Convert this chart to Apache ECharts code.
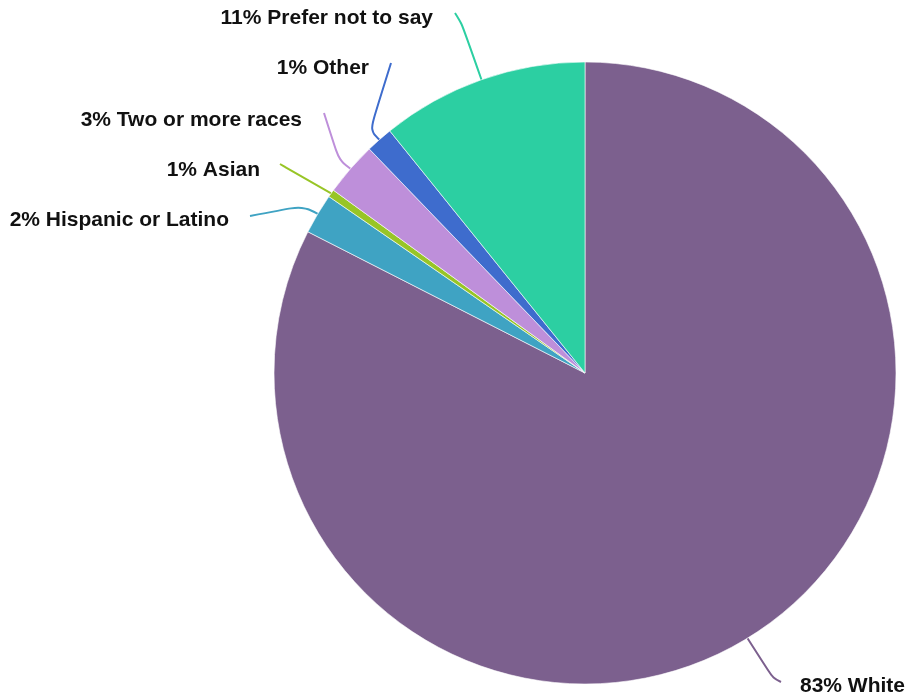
<!DOCTYPE html>
<html>
<head>
<meta charset="utf-8">
<script src="https://cdn.jsdelivr.net/npm/echarts@6/dist/echarts.min.js"></script>
<style>html,body{margin:0;padding:0;background:#fff}#c{width:906px;height:700px}</style>
</head>
<body>
<div id="c"></div>
<script>
// ---- data ----
const categories = ['White', 'Hispanic or Latino', 'Asian', 'Two or more races', 'Other', 'Prefer not to say'];
const values = [82.5, 2.1, 0.4, 2.8, 1.4, 10.8];
const percentLabels = ['83%', '2%', '1%', '3%', '1%', '11%'];

// ---- styles / layout ----
const colors = ['#7c608e', '#3fa3c3', '#98c526', '#be8fda', '#3e6ccd', '#2ccfa2'];
const labelLayouts = [
  { x: 800, y: 686, align: 'left',  bend: [773, 678], end: [781, 682] },
  { x: 229, y: 220, align: 'right', bend: [302, 206], end: [250, 216] },
  { x: 260, y: 170, align: 'right', bend: [285, 167], end: [280, 164] },
  { x: 302, y: 120, align: 'right', bend: [339, 160], end: [324, 113] },
  { x: 369, y: 68,  align: 'right', bend: [370, 130], end: [391, 63] },
  { x: 433, y: 18,  align: 'right', bend: [462, 24],  end: [455, 13] }
];

const chart = echarts.init(document.getElementById('c'), null, { renderer: 'canvas' });
chart.setOption({
  animation: false,
  color: colors,
  series: [{
    type: 'pie',
    center: [585, 373],
    radius: [0, 311],
    startAngle: 90,
    clockwise: true,
    avoidLabelOverlap: false,
    data: categories.map((c, i) => ({
      name: c,
      value: values[i],
      label: { formatter: percentLabels[i] + ' ' + c },
      labelLine: { lineStyle: { color: colors[i] } }
    })),
    itemStyle: { borderColor: '#ffffff', borderWidth: 0.6 },
    label: {
      show: true,
      position: 'outside',
      color: '#111',
      fontFamily: 'Liberation Sans, Arial, Helvetica, sans-serif',
      fontWeight: 'bold',
      fontSize: 21
    },
    labelLine: { show: true, smooth: 0.35, length: 20, length2: 20, lineStyle: { width: 2 } },
    labelLayout: function (params) {
      const L = labelLayouts[params.dataIndex];
      const edge = params.labelLinePoints ? params.labelLinePoints[0] : L.bend;
      return {
        x: L.x,
        y: L.y,
        align: L.align,
        verticalAlign: 'middle',
        labelLinePoints: [edge, L.bend, L.end]
      };
    }
  }]
});
</script>
</body>
</html>
